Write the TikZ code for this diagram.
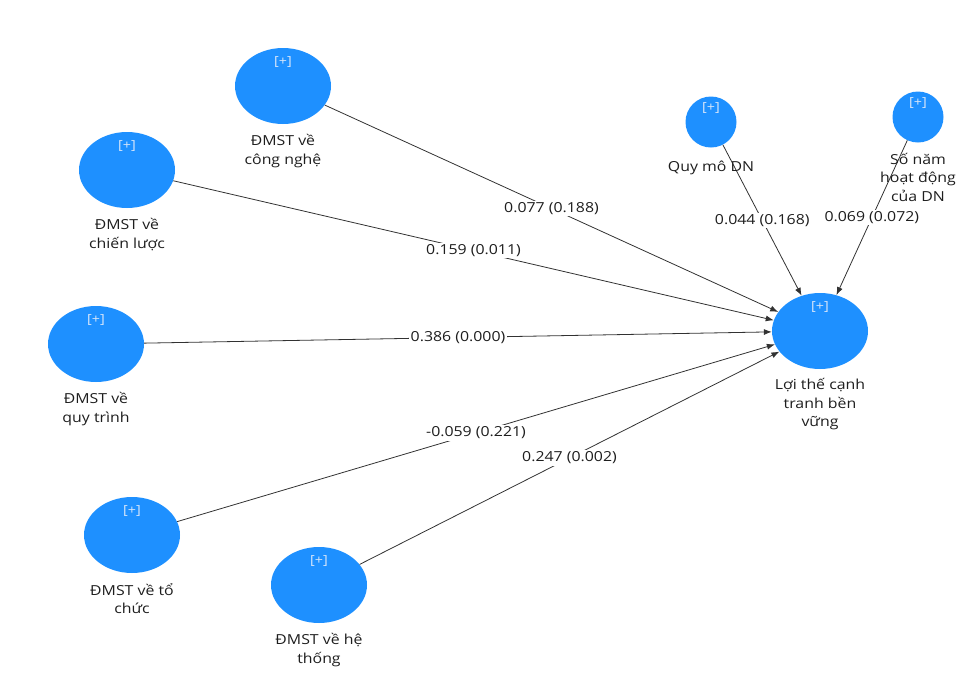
\documentclass[tikz,border=0pt]{standalone}
\usepackage{fontspec}
\setmainfont{Open Sans}[FakeStretch=1.15]
\usetikzlibrary{shapes.geometric,arrows.meta,positioning}
\definecolor{nodeblue}{RGB}{30,144,255}
\definecolor{linegray}{RGB}{50,50,50}
\definecolor{txtgray}{RGB}{30,30,30}
\definecolor{plusgray}{RGB}{215,230,250}
\begin{document}
\begin{tikzpicture}[x=1pt,y=-1pt,
  bigc/.style={ellipse, fill=nodeblue, minimum width=96pt, minimum height=76pt, inner sep=0pt},
  smallc/.style={ellipse, fill=nodeblue, minimum width=51pt, minimum height=51pt, inner sep=0pt},
  plus/.style={text=plusgray, font=\fontsize{12.5}{14}\selectfont, inner sep=0pt},
  lbl/.style={text=txtgray, font=\fontsize{13.8}{18.5}\selectfont, align=center, inner sep=0pt,
              execute at begin node=\rule{0pt}{14pt}},
  conn/.style={draw=linegray, line width=0.8pt, -{Latex[length=8pt,width=6pt]}},
  coef/.style={fill=white, text=txtgray, font=\fontsize{13.8}{18}\selectfont, inner sep=1.5pt}
]
\useasboundingbox (0,0) rectangle (964,675);

% circles
\node[bigc] (cn) at (283,86) {};
\node[bigc] (cl) at (127,170) {};
\node[bigc] (qt) at (96,344) {};
\node[bigc] (tc) at (132,535) {};
\node[bigc] (ht) at (319,585) {};
\node[bigc] (lt) at (820,331) {};
\node[smallc] (qm) at (711,122) {};
\node[smallc] (sn) at (918,117) {};

% [+] marks
\node[plus] (cnp) at (283,62) {[+]};
\node[plus] (clp) at (127,146) {[+]};
\node[plus] (qtp) at (96,320) {[+]};
\node[plus] (tcp) at (132,511) {[+]};
\node[plus] (htp) at (319,561) {[+]};
\node[plus] (ltp) at (820,307) {[+]};
\node[plus] (qmp) at (711,108) {[+]};
\node[plus] (snp) at (918,103) {[+]};

% edges
\draw[conn] (cn) -- node[coef] (e1) {0.077 (0.188)} (lt);
\draw[conn] (cl) -- node[coef] (e2) {0.159 (0.011)} (lt);
\draw[conn] (qt) -- node[coef] (e3) {0.386 (0.000)} (lt);
\draw[conn] (tc) -- node[coef] (e4) {-0.059 (0.221)} (lt);
\draw[conn] (ht) -- node[coef] (e5) {0.247 (0.002)} (lt);
\draw[conn] (qm) -- node[coef] (e6) {0.044 (0.168)} (lt);
\draw[conn] (sn) -- node[coef] (e7) {0.069 (0.072)} (lt);

% labels
\node[lbl, anchor=north] (cnl) at ([yshift=-10pt]cn.south) {ĐMST về\\công nghệ};
\node[lbl, anchor=north] (cll) at ([yshift=-10pt]cl.south) {ĐMST về\\chiến lược};
\node[lbl, anchor=north] (qtl) at ([yshift=-10pt]qt.south) {ĐMST về\\quy trình};
\node[lbl, anchor=north] (tcl) at ([yshift=-10pt]tc.south) {ĐMST về tổ\\chức};
\node[lbl, anchor=north] (htl) at ([yshift=-10pt]ht.south) {ĐMST về hệ\\thống};
\node[lbl, anchor=north] (ltl) at ([yshift=-9pt]lt.south) {Lợi thế cạnh\\tranh bền\\vững};
\node[lbl, anchor=north] (qml) at ([yshift=-10pt]qm.south) {Quy mô DN};
\node[lbl, anchor=north] (snl) at ([yshift=-10pt]sn.south) {Số năm\\hoạt động\\của DN};
\end{tikzpicture}
\end{document}
